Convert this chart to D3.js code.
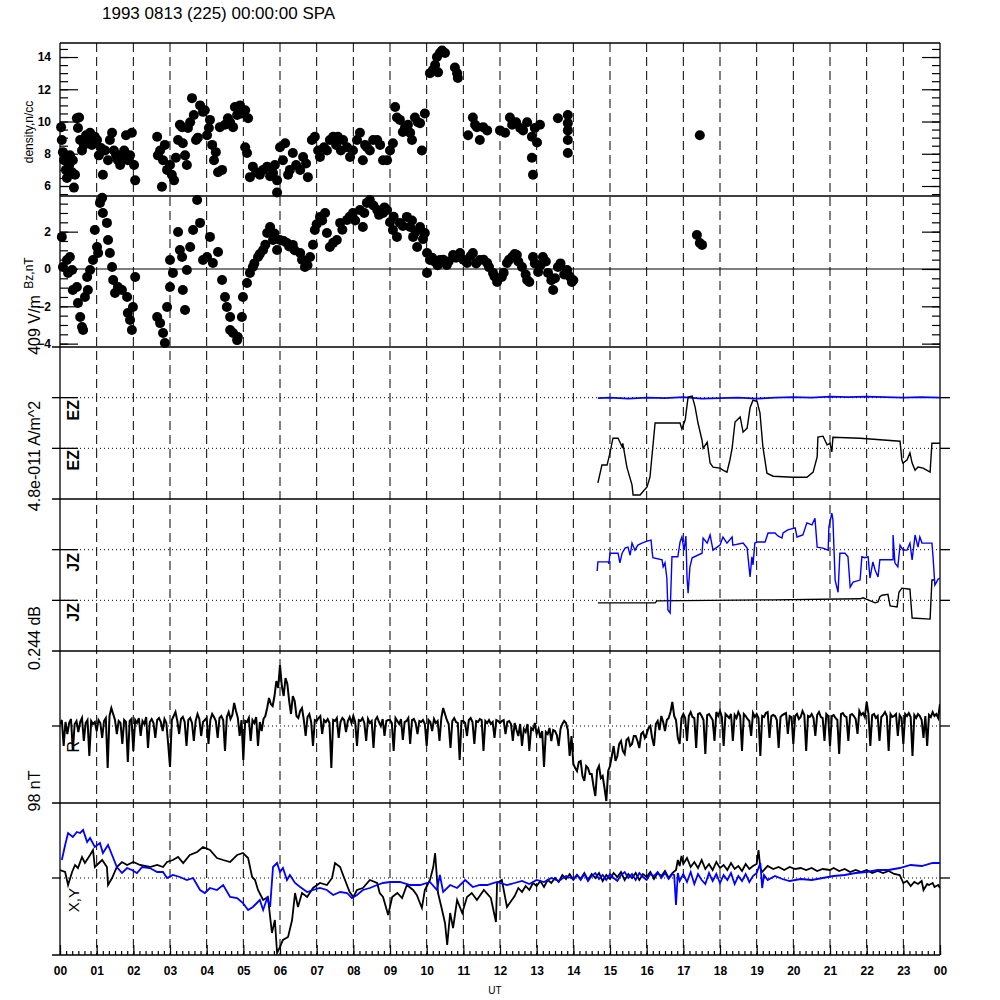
<!DOCTYPE html>
<html><head><meta charset="utf-8">
<script src="https://cdn.jsdelivr.net/npm/d3@7"></script>
<style>body{margin:0;background:#fff}</style>
</head><body><div id="chart"></div>
<script>
const title = "1993 0813 (225) 00:00:00 SPA";
const hourLabels = ["00","01","02","03","04","05","06","07","08","09","10","11","12","13","14","15","16","17","18","19","20","21","22","23","00"];
const densityTicks = [6,8,10,12,14];
const bzTicks = [-4,-2,0,2];

// density (n/cc) samples [UT hour, value]
const densityPts = [[0.03,9.65],[0.05,8.85],[0.08,8.1],[0.11,7.6],[0.16,7.0],[0.19,6.5],[0.25,7.3],[0.27,7.9],[0.33,6.85],[0.35,7.6],[0.38,5.9],[0.41,6.7],[0.46,10.2],[0.49,9.6],[0.52,10.25],[0.55,8.85],[0.6,8.2],[0.65,8.55],[0.71,9.15],[0.76,8.85],[0.82,9.3],[0.87,8.55],[0.95,9.05],[1.01,8.85],[1.06,7.9],[1.12,8.35],[1.17,6.7],[1.23,8.2],[1.31,7.6],[1.36,8.85],[1.42,9.3],[1.47,8.2],[1.53,7.9],[1.58,7.6],[1.64,7.3],[1.69,7.9],[1.75,8.2],[1.8,9.15],[1.85,7.6],[1.91,7.9],[1.96,9.3],[2.02,7.3],[2.05,6.35],
[2.65,9.05],[2.67,7.9],[2.73,8.2],[2.78,5.95],[2.81,7.6],[2.86,8.55],[2.92,7.0],[3.0,7.3],[3.05,6.7],[3.11,6.35],[3.16,7.75],[3.22,8.85],[3.27,9.8],[3.33,9.65],[3.35,8.65],[3.41,7.9],[3.46,7.3],[3.49,9.6],[3.55,9.95],[3.6,11.45],[3.65,10.4],[3.71,8.85],[3.76,9.0],[3.82,11.0],[3.9,10.6],[3.95,10.7],[4.01,9.15],[4.06,9.6],[4.09,10.1],[4.15,8.55],[4.2,7.6],[4.25,8.1],[4.31,6.85],[4.36,9.65],[4.42,7.0],[4.5,9.8],[4.58,10.2],[4.64,9.95],[4.72,9.65],[4.77,10.9],[4.83,10.4],[4.91,11.0],[4.96,10.5],[5.05,10.7],[5.05,8.4],[5.1,8.05],[5.13,10.2],
[5.18,6.55],[5.26,7.2],[5.35,6.85],[5.45,6.7],[5.54,7.0],[5.65,7.2],[5.73,6.6],[5.81,6.8],[5.86,7.3],[5.92,6.35],[5.92,5.6],[6.0,8.4],[6.08,7.6],[6.14,8.65],[6.22,6.7],[6.27,7.0],[6.35,8.05],[6.44,7.3],[6.55,7.0],[6.63,7.8],[6.71,7.4],[6.76,6.55],[6.87,8.85],[6.95,9.05],[7.04,8.2],[7.09,7.8],[7.2,8.4],[7.28,8.2],[7.36,8.85],[7.45,9.05],[7.53,8.55],[7.58,9.05],[7.66,8.2],[7.72,8.85],[7.83,8.4],[7.91,7.8],[7.99,8.2],[8.1,8.85],[8.18,9.3],[8.26,7.6],[8.32,8.55],[8.37,8.4],[8.45,8.2],[8.54,8.85],[8.65,8.85],[8.73,8.55],[8.81,7.6],[8.92,7.6],[9.0,8.2],[9.08,8.65],
[9.14,10.9],[9.19,10.25],[9.27,10.1],[9.35,9.35],[9.41,9.65],[9.49,9.8],[9.55,9.3],[9.6,8.85],[9.68,10.25],[9.76,9.95],[9.82,9.9],[9.87,8.2],[9.95,10.5],[10.09,13.0],[10.17,13.2],[10.23,13.5],[10.28,14.0],[10.36,14.25],[10.42,14.4],[10.5,14.25],[10.31,13.05],[10.77,13.35],[10.83,13.0],[10.85,12.7],
[11.13,9.15],[11.26,10.25],[11.32,9.8],[11.37,9.65],[11.45,8.85],[11.54,9.65],[11.65,9.45],[12.0,9.45],[12.14,9.3],[12.27,10.25],[12.33,9.8],[12.44,9.95],[12.55,9.6],[12.63,9.45],[12.74,9.95],[12.87,9.05],[12.95,9.6],[13.01,8.7],[13.09,9.8],[12.87,7.75],[12.9,6.7],[13.58,10.2],[13.85,10.4],[13.85,9.9],[13.85,9.45],[13.85,8.85],[13.85,8.05],[17.45,9.15]];

// Bz (nT) samples [UT hour, value]
const bzPts = [[0.05,1.72],[0.08,0.11],[0.19,0.48],[0.22,-0.21],[0.27,0.64],[0.33,-0.05],[0.35,-1.13],[0.46,-0.97],[0.49,-1.82],[0.55,-2.57],[0.6,-3.11],[0.63,-3.27],[0.68,-1.5],[0.74,-0.43],[0.76,-1.13],[0.82,-0.05],[0.9,0.48],[0.95,2.09],[1.01,1.18],[1.04,0.86],[1.09,3.54],[1.15,3.81],[1.17,3.0],[1.28,2.47],[1.31,1.55],[1.36,0.86],[1.42,0.11],[1.45,-0.59],[1.5,-1.29],[1.58,-0.97],[1.69,-1.13],[1.83,-1.5],[1.85,-2.36],[1.91,-2.73],[1.96,-3.27],[1.99,-2.04],[2.05,-0.43],
[2.65,-2.57],[2.73,-2.9],[2.81,-3.43],[2.86,-3.97],[2.92,-2.04],[3.0,-0.97],[3.0,0.48],[3.08,-0.21],[3.22,1.98],[3.27,1.02],[3.33,0.64],[3.35,-1.13],[3.41,-2.2],[3.46,-0.05],[3.55,1.18],[3.63,2.09],[3.74,3.7],[3.82,2.47],[3.9,0.48],[4.01,0.64],[4.09,1.72],[4.17,0.32],[4.31,0.91],[4.42,-0.59],[4.5,-1.5],[4.55,-2.04],[4.64,-2.57],[4.64,-3.27],[4.72,-3.43],[4.83,-3.81],[4.85,-3.65],[4.96,-2.57],[4.99,-1.5],[5.1,-0.75],[5.18,-0.21],[5.26,0.11],[5.3,0.3],[5.4,0.64],[5.45,0.8],[5.54,1.02],[5.6,1.3],[5.65,1.93],[5.73,2.25],[5.81,1.55],[5.85,1.9],[5.92,1.02],[6.0,1.55],[6.1,1.5],[6.19,1.39],[6.25,1.2],[6.35,1.29],[6.4,1.0],[6.55,0.86],[6.6,0.5],[6.68,0.11],[6.75,0.2],[6.82,0.64],[6.9,1.3],[6.95,2.09],[7.0,2.4],[7.09,2.79],[7.15,2.6],[7.23,3.0],[7.28,1.93],[7.36,1.18],[7.45,1.4],[7.55,1.55],[7.64,2.47],[7.7,2.1],[7.83,2.63],[7.9,2.8],[7.99,3.0],[8.05,2.6],[8.18,3.16],[8.26,2.25],[8.3,3.0],[8.37,3.54],[8.45,3.7],[8.55,3.4],[8.65,3.16],[8.7,2.9],[8.81,3.0],[8.85,3.3],[8.92,3.16],[9.0,2.5],[9.08,2.09],[9.1,2.8],[9.19,1.72],[9.27,2.47],[9.35,2.3],[9.46,2.79],[9.55,2.25],[9.6,2.6],[9.63,1.72],[9.7,2.0],[9.74,1.18],[9.82,2.25],[9.9,1.6],[9.95,1.93],
[10.01,0.86],[10.01,-0.21],[10.09,0.48],[10.15,0.6],[10.23,0.38],[10.3,0.2],[10.36,0.48],[10.45,0.5],[10.55,0.21],[10.6,0.4],[10.72,0.75],[10.8,0.6],[10.91,0.86],[11.0,0.5],[11.1,0.32],[11.2,0.7],[11.26,0.86],[11.35,0.3],[11.45,0.48],[11.55,0.5],[11.65,0.32],[11.7,0.1],[11.81,-0.21],[11.85,-0.4],[11.92,-0.7],[12.05,-0.43],[12.1,-0.2],[12.19,0.32],[12.25,0.5],[12.33,0.64],[12.4,0.8],[12.46,0.75],[12.5,0.4],[12.6,0.11],[12.7,-0.3],[12.74,-0.59],[12.8,-0.7],[12.9,0.64],[12.95,0.3],[13.04,-0.16],[13.1,0.2],[13.17,0.64],[13.25,0.4],[13.31,-0.21],[13.4,-0.6],[13.45,-1.13],[13.5,-0.5],[13.58,0.11],[13.65,0.3],[13.75,-0.3],[13.83,-0.05],[13.9,-0.4],[13.96,-0.7],[14.0,-0.6],[17.37,1.82],[17.45,1.39],[17.51,1.29]];

// EZ traces (scale divisions, dotted reference lines at 1 and 2)
const ezBlack = [[14.67,0.32],[14.78,0.67],[14.92,0.67],[15.0,0.91],[15.08,1.2],[15.22,1.2],[15.33,1.03],[15.35,1.1],[15.46,0.63],[15.6,0.28],[15.63,0.08],[15.82,0.08],[16.01,0.24],[16.09,0.43],[16.23,1.5],[16.91,1.5],[16.96,1.38],[17.05,1.56],[17.13,2.01],[17.24,2.03],[17.32,1.82],[17.4,1.5],[17.51,1.16],[17.54,1.0],[17.65,1.12],[17.73,0.71],[17.81,0.63],[18.0,0.61],[18.08,0.57],[18.19,0.53],[18.27,0.77],[18.33,1.0],[18.41,1.52],[18.55,1.62],[18.63,1.32],[18.74,1.4],[18.82,1.8],[18.9,1.95],[19.01,1.93],[19.09,1.7],[19.17,1.03],[19.28,0.51],[19.45,0.45],[19.99,0.43],[20.37,0.43],[20.54,0.53],[20.65,0.83],[20.67,1.22],[20.81,1.24],[20.92,1.07],[21.0,1.1],[21.05,0.93],[21.08,1.22],[21.82,1.2],[22.91,1.14],[22.96,0.77],[22.99,0.71],[23.1,0.77],[23.18,0.91],[23.24,0.71],[23.32,0.57],[23.4,0.63],[23.54,0.61],[23.73,0.53],[23.78,1.1],[24.0,1.1]];
const ezBlue = [[14.67,1.99],[15.0,2.0],[15.5,1.98],[16.0,2.0],[16.5,1.99],[17.0,2.01],[17.5,1.98],[18.0,1.99],[18.5,2.0],[19.0,1.98],[19.5,2.0],[20.0,2.01],[20.5,2.0],[21.0,2.02],[21.5,2.01],[22.0,2.02],[22.5,2.01],[23.0,2.0],[23.5,2.01],[24.0,2.0]];

// JZ traces (scale divisions, dotted reference lines at 1 and 2)
const jzBlue = [[14.65,1.58],[14.67,1.76],[14.95,1.76],[14.97,1.72],[15.0,1.93],[15.22,1.93],[15.27,1.74],[15.33,1.93],[15.41,2.03],[15.49,2.05],[15.55,1.89],[15.6,2.13],[15.68,1.99],[15.76,2.09],[15.87,2.13],[16.01,2.17],[16.12,2.19],[16.15,1.95],[16.17,1.84],[16.42,1.8],[16.45,1.66],[16.5,1.74],[16.55,1.44],[16.58,0.81],[16.64,0.75],[16.69,1.86],[16.85,1.86],[16.91,2.15],[16.96,2.25],[17.02,1.99],[17.07,2.27],[17.1,1.46],[17.13,1.14],[17.18,1.66],[17.24,1.84],[17.51,1.93],[17.54,2.23],[17.65,2.13],[17.73,2.29],[17.81,1.99],[18.0,2.09],[18.08,2.25],[18.19,2.13],[18.33,2.25],[18.35,2.09],[18.63,2.13],[18.74,2.03],[18.82,1.46],[18.87,1.86],[18.9,1.7],[18.95,2.13],[19.01,2.15],[19.23,2.15],[19.31,2.33],[19.5,2.33],[19.58,2.27],[19.69,2.23],[19.72,2.33],[19.85,2.39],[20.05,2.43],[20.1,2.25],[20.26,2.29],[20.37,2.53],[20.51,2.49],[20.59,2.62],[20.65,2.05],[20.81,2.03],[20.95,1.99],[20.97,2.45],[21.05,2.72],[21.08,2.59],[21.14,1.4],[21.22,1.16],[21.27,1.93],[21.41,1.93],[21.49,1.86],[21.55,1.26],[21.63,1.36],[21.82,1.4],[21.87,1.86],[21.95,1.84],[22.04,1.86],[22.09,1.44],[22.17,1.76],[22.23,1.6],[22.31,1.46],[22.36,1.8],[22.72,1.8],[22.72,2.29],[22.77,1.74],[22.85,1.66],[22.91,2.09],[22.99,1.99],[23.1,1.99],[23.18,2.13],[23.24,1.8],[23.32,2.29],[23.4,2.05],[23.45,2.25],[23.51,2.13],[23.78,2.13],[23.81,1.86],[23.86,1.3],[23.95,1.42],[24.0,1.44]];
const jzBlack = [[14.67,0.95],[16.23,0.95],[16.28,0.99],[19.45,1.01],[21.82,1.03],[21.9,1.05],[22.04,1.01],[22.23,0.95],[22.31,0.97],[22.36,1.07],[22.42,1.1],[22.58,1.12],[22.64,0.89],[22.83,0.87],[22.88,1.16],[22.96,1.24],[23.18,1.22],[23.24,0.65],[23.73,0.63],[23.78,1.4],[23.86,1.4]];

// R (relative units), sampled every 0.05 h from 00 UT (20 samples per hour)
const rStart = 0, rStep = 0.05;
const rVals = [
2,6,-20,4,-8,3,7,-25,2,5,-6,4,8,-15,3,6,-30,5,2,4,
-5,6,3,-12,5,8,-42,10,18,12,6,-8,5,3,-18,6,4,-36,5,7,
-25,6,3,8,-10,5,2,9,-22,4,7,3,-12,6,8,4,-5,7,3,-18,
-41,6,10,14,5,-8,7,9,4,-20,6,8,3,-15,5,12,7,-10,4,6,
8,-18,6,12,9,5,-12,8,10,6,-25,9,14,7,11,23,15,8,-10,6,
-34,5,4,8,-15,6,3,9,-20,4,-5,7,10,18,28,22,20,30,45,38,
61,40,30,48,42,25,12,30,25,10,8,15,18,6,-10,9,12,4,-20,6,
5,8,10,-8,6,4,7,3,-42,6,5,8,-12,4,8,6,-6,5,9,3,
10,4,-20,6,5,8,3,-15,7,3,5,-22,6,9,4,0,7,-10,5,6,
6,3,-25,8,5,2,7,-14,4,5,8,-18,6,7,3,-8,5,4,6,2,
-20,6,4,-5,7,3,5,-15,8,18,12,6,2,-22,5,8,4,3,-34,5,
5,3,-10,6,8,4,-18,5,4,7,6,-25,5,3,6,2,4,-12,6,5,
3,5,6,-8,4,5,2,-15,3,-4,-10,2,-20,-3,-6,2,-25,-2,-4,3,
-8,-3,-12,-5,-41,-6,-8,-2,-15,-4,-5,-9,-20,-3,2,5,3,-4,-30,-10,
-38,-42,-45,-36,-35,-50,-55,-40,-42,-48,-48,-60,-70,-44,-40,-52,-50,-62,-75,-45,
-40,-30,-20,-35,-30,-18,-15,-25,-28,-14,-12,-20,-18,-10,-10,-15,-22,-8,-6,-12,
-8,-2,0,-12,-20,2,5,-4,10,4,-5,6,8,14,24,10,6,-12,-18,8,
12,8,-15,10,14,9,8,-22,12,13,10,6,-28,11,12,9,6,-15,14,10,
15,9,-20,12,10,8,12,-15,11,8,14,10,-25,12,10,7,5,-10,13,9,
12,8,-30,10,9,13,14,-12,10,11,10,6,-22,9,11,12,13,-8,10,9,
-18,10,12,7,9,15,11,-25,10,9,12,8,-10,11,14,9,8,-15,12,10,
-20,10,11,8,6,-28,12,13,10,9,-15,11,12,10,7,-8,15,11,13,9,
24,12,-20,11,12,8,10,-15,9,11,14,10,-25,12,9,10,12,-10,11,8,
-18,12,10,13,9,-30,11,8,12,10,6,-12,10,-20,11,9,14,10,12,8,
22];

// X (black) and Y (blue) field components, relative units [UT hour, value]
const xVals = [[0.0,8],[0.14,6],[0.22,-7],[0.33,6],[0.41,13],[0.49,10],[0.6,21],[0.68,15],[0.82,23],[0.9,28],[0.95,11],[1.15,18],[1.28,11],[1.31,-7],[1.42,0],[1.55,11],[1.69,16],[1.83,13],[2.0,16],[2.18,13],[2.45,11],[2.65,13],[2.81,11],[2.92,16],[3.08,18],[3.22,21],[3.36,15],[3.54,23],[3.74,26],[3.9,31],[4.09,28],[4.28,20],[4.45,18],[4.64,16],[4.83,23],[4.99,25],[5.13,20],[5.24,1],[5.32,-2],[5.4,-12],[5.54,-22],[5.67,-19],[5.78,-55],[5.86,-42],[5.92,-75],[6.0,-69],[6.08,-62],[6.22,-59],[6.33,-42],[6.41,-15],[6.49,-29],[6.6,-15],[6.74,-19],[6.9,-10],[7.09,-5],[7.28,-7],[7.42,0],[7.5,15],[7.64,11],[7.72,3],[7.9,-14],[8.0,-19],[8.1,-12],[8.26,-10],[8.45,-2],[8.65,-5],[8.72,-15],[8.81,-19],[8.95,-37],[9.06,-19],[9.2,-15],[9.33,-20],[9.46,-7],[9.63,-12],[9.73,-17],[9.87,-30],[9.95,-12],[10.09,-2],[10.18,11],[10.23,25],[10.31,-15],[10.42,-32],[10.5,-45],[10.56,-67],[10.64,-35],[10.72,-50],[10.83,-22],[10.97,-35],[11.1,-19],[11.23,-15],[11.37,-22],[11.56,-12],[11.75,-20],[11.89,-44],[11.92,-5],[12.05,-2],[12.19,-29],
[12.4,-18],[12.5,-10],[12.6,-14],[12.7,-8],[12.8,-12],[12.9,-5],[13.0,-8],[13.1,-3],[13.2,-9],[13.3,-2],[13.4,-5],[13.5,0],[13.6,-4],[13.7,3],[13.8,-1],[13.9,4],[14.0,-2],[14.1,3],[14.2,-1],[14.3,5],[14.4,-2],[14.5,4],[14.6,0],[14.7,5],[14.8,-3],[14.9,3],[15.0,-1],[15.1,5],[15.2,1],[15.3,6],[15.4,-2],[15.5,4],[15.6,0],[15.7,5],[15.8,-2],[15.9,4],[16.0,1],[16.1,6],[16.2,-1],[16.3,5],[16.4,2],[16.5,7],[16.6,0],[16.7,5],[16.8,8],[16.85,18],[16.9,12],[16.95,22],[17.0,14],[17.1,20],[17.2,11],[17.3,16],[17.4,10],[17.5,18],[17.6,9],[17.7,14],[17.8,8],[17.9,16],[18.0,10],[18.1,13],[18.2,8],[18.3,15],[18.4,9],[18.5,12],[18.6,7],[18.7,14],[18.8,9],[18.9,12],[19.0,14],[19.05,28],[19.1,10],[19.15,6],[19.3,12],[19.45,9],[19.6,11],[19.75,8],[19.9,11],[20.05,9],[20.2,10],[20.35,8],[20.5,10],[20.65,7],[20.8,9],[21.0,8],[21.1,10],[21.25,7],[21.4,9],[21.55,6],[21.7,8],[21.85,6],[22.0,8],[22.15,5],[22.3,7],[22.45,5],[22.6,7],[22.75,4],[22.9,3],[23.0,-5],[23.1,-3],[23.2,-8],[23.3,-4],[23.4,-6],[23.5,-3],[23.55,-12],[23.65,-6],[23.7,-7],[23.8,-5],[23.85,-9],[23.95,-7],[24.0,-10]];
const yVals = [[0.05,18],[0.14,33],[0.22,45],[0.35,41],[0.46,46],[0.55,45],[0.63,48],[0.74,36],[0.82,40],[0.95,31],[1.09,35],[1.17,25],[1.31,33],[1.42,23],[1.55,11],[1.69,5],[1.83,10],[1.96,8],[2.1,5],[2.24,11],[2.45,10],[2.65,6],[2.81,6],[2.92,0],[3.08,3],[3.27,1],[3.46,-2],[3.63,0],[3.82,-12],[3.95,-15],[4.09,-10],[4.28,-12],[4.45,-7],[4.64,-19],[4.83,-20],[4.99,-25],[5.13,-32],[5.26,-29],[5.45,-22],[5.54,-32],[5.65,-20],[5.73,-29],[5.81,11],[5.92,15],[6.0,6],[6.08,10],[6.19,-2],[6.27,3],[6.41,-5],[6.55,-9],[6.74,-14],[6.9,-12],[7.09,-10],[7.28,-12],[7.45,-17],[7.64,-14],[7.83,-15],[7.96,-20],[8.1,-17],[8.26,-12],[8.45,-10],[8.65,-7],[8.81,-5],[9.0,-4],[9.27,-4],[9.55,-7],[9.82,-7],[10.09,-4],[10.28,-12],[10.36,3],[10.45,-14],[10.64,-7],[10.83,-10],[11.05,-2],[11.26,-9],[11.45,-7],[11.65,-7],[11.92,-4],[12.19,-7],[12.4,-5],[12.6,-3],[12.8,-6],[13.0,-2],[13.2,-4],[13.4,0],[13.6,-3],[13.8,2],
[14.0,-1],[14.1,3],[14.2,-2],[14.3,4],[14.4,-3],[14.5,2],[14.6,5],[14.7,-1],[14.8,3],[14.9,-2],[15.0,4],[15.1,0],[15.2,-3],[15.3,3],[15.4,6],[15.5,0],[15.6,4],[15.7,-2],[15.8,5],[15.9,1],[16.0,-2],[16.1,4],[16.2,2],[16.3,6],[16.4,0],[16.5,5],[16.6,-1],[16.7,4],[16.75,3],[16.8,-27],[16.85,5],[16.9,-3],[17.0,4],[17.1,-4],[17.2,6],[17.3,-6],[17.4,4],[17.5,-2],[17.6,-6],[17.7,5],[17.8,-3],[17.9,4],[18.0,-5],[18.1,3],[18.2,-2],[18.3,5],[18.4,-6],[18.5,2],[18.6,-3],[18.7,4],[18.8,-4],[18.9,2],[19.0,5],[19.1,15],[19.15,-10],[19.2,3],[19.3,-2],[19.5,2],[19.7,-1],[19.9,-3],[20.2,-1],[20.5,-2],[20.8,0],[21.1,2],[21.4,3],[21.7,5],[22.0,6],[22.3,8],[22.6,8],[22.9,10],[23.2,13],[23.5,12],[23.8,15],[24.0,15]];

// ---------------- drawing ----------------
const FONT = "'Liberation Sans', Arial, Helvetica, sans-serif";
const svg = d3.select("#chart").append("svg").attr("width",1000).attr("height",1000)
  .style("font-family",FONT);
svg.append("rect").attr("width",1000).attr("height",1000).attr("fill","#fff");

const L = 60, R = 940;
const panels = [[43,196],[196,347],[347,499],[499,651],[651,803],[803,955]];
const x = d3.scaleLinear().domain([0,24]).range([L,R]);
const yD = d3.scaleLinear().domain([5.38,14.87]).range([196,43]);
const yB = d3.scaleLinear().domain([-4.18,3.91]).range([347,196]);
const yE = d3.scaleLinear().domain([0,3]).range([499,347]);
const yJ = d3.scaleLinear().domain([0,3]).range([651,499]);
const yR = d3.scaleLinear().domain([-77,75]).range([803,651]);
const yX = d3.scaleLinear().domain([-77,75]).range([955,803]);

const defs = svg.append("defs");
panels.forEach((p,i)=>{
  defs.append("clipPath").attr("id","clip"+i).append("rect")
    .attr("x",L).attr("y",p[0]).attr("width",R-L).attr("height",p[1]-p[0]);
});

svg.append("g").selectAll("line").data(d3.range(1,24)).join("line")
  .attr("x1",d=>x(d)).attr("x2",d=>x(d)).attr("y1",43).attr("y2",955)
  .attr("stroke","#000").attr("stroke-width",1).attr("stroke-dasharray","9,5");

const frame = svg.append("g").attr("stroke","#000").attr("stroke-width",1.3);
frame.append("line").attr("x1",L).attr("x2",L).attr("y1",43).attr("y2",955);
frame.append("line").attr("x1",R).attr("x2",R).attr("y1",43).attr("y2",955);
frame.append("line").attr("x1",L).attr("x2",R).attr("y1",43).attr("y2",43);
frame.append("line").attr("x1",L).attr("x2",R).attr("y1",196).attr("y2",196);
[347,499,651,803,955].forEach(y=>{
  frame.append("line").attr("x1",52).attr("x2",R).attr("y1",y).attr("y2",y);
});

function styleAxis(g){
  g.select(".domain").remove();
  g.selectAll(".tick line").attr("stroke","#000").attr("stroke-width",1.2);
  g.attr("font-family",FONT).attr("font-size",12).attr("font-weight","bold");
  g.selectAll("text").attr("fill","#000");
}

function yAxes(scale, ticks, minor){
  svg.append("g").attr("transform",`translate(${L},0)`)
    .call(d3.axisLeft(scale).tickValues(minor).tickSize(-8).tickFormat("")).call(styleAxis);
  svg.append("g").attr("transform",`translate(${L},0)`)
    .call(d3.axisLeft(scale).tickValues(ticks).tickSize(-18).tickPadding(9).tickFormat(d3.format("d"))).call(styleAxis);
  svg.append("g").attr("transform",`translate(${R},0)`)
    .call(d3.axisRight(scale).tickValues(minor).tickSize(-8).tickFormat("")).call(styleAxis);
  svg.append("g").attr("transform",`translate(${R},0)`)
    .call(d3.axisRight(scale).tickValues(ticks).tickSize(-18).tickFormat("")).call(styleAxis);
}
yAxes(yD, densityTicks, d3.range(5.5,14.8,0.5));
yAxes(yB, bzTicks, d3.range(-4,3.8,0.5));

svg.append("line").attr("x1",L).attr("x2",R).attr("y1",yB(0)).attr("y2",yB(0))
  .attr("stroke","#000").attr("stroke-width",1.2);

function refLine(scale, v, inner){
  svg.append("line").attr("x1",L).attr("x2",R).attr("y1",scale(v)).attr("y2",scale(v))
    .attr("stroke","#000").attr("stroke-width",1).attr("stroke-dasharray","1,3");
  svg.append("line").attr("x1",52).attr("x2",L+inner).attr("y1",scale(v)).attr("y2",scale(v))
    .attr("stroke","#000").attr("stroke-width",1.3);
  svg.append("line").attr("x1",R).attr("x2",R+10).attr("y1",scale(v)).attr("y2",scale(v))
    .attr("stroke","#000").attr("stroke-width",1.3);
}
refLine(yE,1,18); refLine(yE,2,18);
refLine(yJ,1,18); refLine(yJ,2,18);
refLine(yR,0,0); refLine(yX,0,0);

svg.append("g").attr("transform","translate(0,955)")
  .call(d3.axisBottom(x).tickValues(d3.range(0,145).map(i=>i/6)).tickSize(-4).tickFormat("")).call(styleAxis);
svg.append("g").attr("transform","translate(0,955)")
  .call(d3.axisBottom(x).tickValues(d3.range(0,25)).tickSize(-10).tickPadding(11).tickFormat((d,i)=>hourLabels[i])).call(styleAxis);

svg.append("g").selectAll("circle").data(densityPts).join("circle")
  .attr("cx",d=>x(d[0])).attr("cy",d=>yD(d[1])).attr("r",5).attr("fill","#000");
svg.append("g").selectAll("circle").data(bzPts).join("circle")
  .attr("cx",d=>x(d[0])).attr("cy",d=>yB(d[1])).attr("r",5).attr("fill","#000");

function drawLine(data, scale, clipIdx, color, w){
  const line = d3.line().x(d=>x(d[0])).y(d=>scale(d[1]));
  svg.append("path").datum(data).attr("d",line).attr("fill","none")
    .attr("stroke",color).attr("stroke-width",w).attr("stroke-linejoin","miter")
    .attr("clip-path",`url(#clip${clipIdx})`);
}
drawLine(ezBlue, yE, 2, "#0000ff", 1.8);
drawLine(ezBlack, yE, 2, "#000", 1.4);
drawLine(jzBlack, yJ, 3, "#000", 1.4);
drawLine(jzBlue, yJ, 3, "#0000ff", 1.4);
const rData = rVals.map((v,i)=>[rStart + i*rStep, v]);
drawLine(rData, yR, 4, "#000", 2);
drawLine(xVals, yX, 5, "#000", 1.8);
drawLine(yVals, yX, 5, "#0000ff", 1.8);

svg.append("text").attr("x",102).attr("y",19).attr("font-size",17).text(title);
svg.append("text").attr("x",495).attr("y",994).attr("font-size",10).attr("text-anchor","middle").text("UT");

function vtext(xp, yp, txt, size, anchor, weight){
  svg.append("text").attr("transform",`translate(${xp},${yp}) rotate(-90)`)
    .attr("font-size",size).attr("text-anchor",anchor).attr("font-weight",weight||"normal").text(txt);
}
vtext(33, 132, "density,n/cc", 12, "middle");
vtext(33, 273, "Bz,nT", 12, "middle");
vtext(40, 325, "409 V/m", 16, "middle");
vtext(40, 456, "4.8e-011 A/m^2", 16, "middle");
vtext(40, 638, "0.244 dB", 16, "middle");
vtext(40, 791, "98 nT", 16, "middle");
vtext(79, 400, "EZ", 16, "end", "bold");
vtext(79, 450, "EZ", 16, "end", "bold");
vtext(79, 553, "JZ", 16, "end", "bold");
vtext(79, 603, "JZ", 16, "end", "bold");
vtext(79, 741, "R", 16, "end", "normal");
vtext(79, 888, "X,Y", 15, "end", "normal");
</script>
</body></html>
